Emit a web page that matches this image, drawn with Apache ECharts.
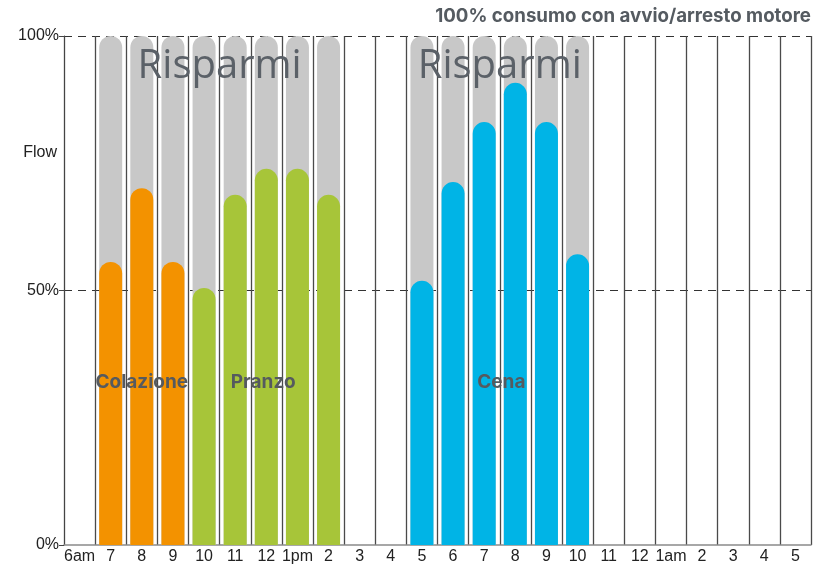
<!DOCTYPE html>
<html><head><meta charset="utf-8">
<script src="https://cdn.jsdelivr.net/npm/echarts@6/dist/echarts.min.js"></script>
<style>html,body{margin:0;padding:0;background:#fff}#c{width:827px;height:568px}</style>
</head><body><div id="c"></div>
<script>
const categories = ['6am','7','8','9','10','11','12','1pm','2','3','4','5','6','7','8','9','10','11','12','1am','2','3','4','5'];
const flowValues = [null,55.6,70.1,55.6,50.5,68.8,73.9,73.9,68.8,null,null,51.9,71.3,83.1,90.8,83.1,57.1,null,null,null,null,null,null,null];
const mealGroup  = [null,'c','c','c','p','p','p','p','p',null,null,'n','n','n','n','n','n',null,null,null,null,null,null,null];
const groupColors = {c:'#F39200', p:'#A7C539', n:'#00B4E6'};
const yTickLabels = {0:'0%',50:'50%',100:'100%'};
const mealLabels = [{text:'Colazione', cat:2},{text:'Pranzo', cat:5.9},{text:'Cena', cat:13.55}];
const savingsLabels = [{text:'Risparmi', cat:4.5},{text:'Risparmi', cat:13.5}];
const title = '100% consumo con avvio/arresto motore';

const chart = echarts.init(document.getElementById('c'), null, {renderer:'canvas'});
const bgData = flowValues.map(v => v == null ? null : 100);
const fgData = flowValues.map((v,i) => v == null ? null : {value:v, itemStyle:{color:groupColors[mealGroup[i]]}});
const R = 11.5;
chart.setOption({
  animation:false,
  grid:{left:64, right:16, top:36, bottom:23, containLabel:false},
  xAxis:{type:'category', data:categories, boundaryGap:true,
    axisLine:{show:true, lineStyle:{color:'#8a8a8a', width:1.5}},
    axisTick:{show:false},
    axisLabel:{color:'#222', fontFamily:'Liberation Sans', fontSize:16, margin:4, interval:0},
    splitLine:{show:true, interval:0, lineStyle:{color:'#4a4a4a', width:1.3}}
  },
  yAxis:{type:'value', min:0, max:100, interval:50,
    axisLine:{show:true, lineStyle:{color:'#444', width:1}},
    axisTick:{show:true, length:5, lineStyle:{color:'#444'}},
    axisLabel:{color:'#222', fontFamily:'Liberation Sans', fontSize:16, margin:5, formatter:v=>yTickLabels[v]},
    splitLine:{show:true, lineStyle:{color:['transparent','#333','#333'], type:[8,6], width:1}}
  },
  series:[
    {type:'bar', data:bgData, barWidth:23, barGap:'-100%', z:1,
      itemStyle:{color:'#C8C8C8', borderRadius:[R,R,0,0]}},
    {type:'bar', data:fgData, barWidth:23, z:2,
      itemStyle:{borderRadius:[R,R,0,0]}}
  ]
});
const g = [];
g.push({type:'text', right:16, top:7, z:10, style:{text:title, fill:'#555b61', font:'bold 18.7px Inter', textAlign:'right'}});
const flowPt = chart.convertToPixel({yAxisIndex:0}, 77);
g.push({type:'text', x:57, y:flowPt, z:10, style:{text:'Flow', fill:'#222', font:'16px "Liberation Sans"', textAlign:'right', textVerticalAlign:'middle'}});
const x0 = chart.convertToPixel({xAxisIndex:0}, 0), x1 = chart.convertToPixel({xAxisIndex:0}, 1);
const step = x1 - x0;
savingsLabels.forEach(s => {
  g.push({type:'text', x:x0 + s.cat*step, y:chart.convertToPixel({yAxisIndex:0}, 94), z:10,
    style:{text:s.text, fill:'#5b6168', font:'40px "Open Sans"', textAlign:'center', textVerticalAlign:'middle'}});
});
mealLabels.forEach(s => {
  g.push({type:'text', x:x0 + s.cat*step, y:chart.convertToPixel({yAxisIndex:0}, 32), z:10,
    style:{text:s.text, fill:'#555a5f', font:'bold 19px Inter', textAlign:'center', textVerticalAlign:'middle'}});
});
chart.setOption({graphic:g});
</script></body></html>
